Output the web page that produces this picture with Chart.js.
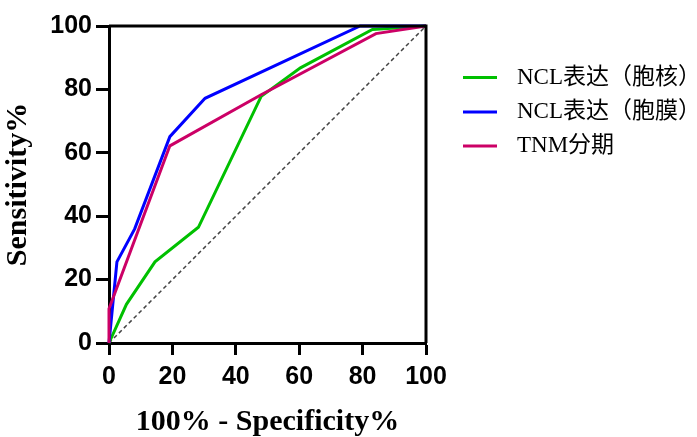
<!DOCTYPE html>
<html>
<head>
<meta charset="utf-8">
<script src="https://cdn.jsdelivr.net/npm/chart.js@4.4.1/dist/chart.umd.min.js"></script>
<style>
  html, body { margin: 0; padding: 0; background: #fff; }
  #wrap { width: 697px; height: 437px; }
</style>
</head>
<body>
<div id="wrap"><canvas id="c" width="697" height="437"></canvas></div>
<script>
// ---- data ----
const seriesNames = ['NCL表达（胞核）', 'NCL表达（胞膜）', 'TNM分期'];
const nucleusX = [0, 5.5, 14.5, 28.2, 48.0, 60.4, 83.1, 100];
const nucleusY = [0, 12.2, 25.6, 36.5, 77.8, 86.8, 98.9, 100];
const membraneX = [0, 2.5, 8.1, 19.2, 30.3, 79.2, 100];
const membraneY = [0, 25.6, 36.0, 65.1, 77.2, 100, 100];
const tnmX = [0, 0, 19.2, 48.0, 84.2, 100];
const tnmY = [0, 10.8, 62.2, 78.3, 97.6, 100];
const refX = [0, 100];
const refY = [0, 100];
const xTicks = [0, 20, 40, 60, 80, 100];
const yTicks = [0, 20, 40, 60, 80, 100];

const pts = (xs, ys) => xs.map((x, i) => ({ x: x, y: ys[i] }));

const colors = ['#00c000', '#0000ff', '#cc0066'];

const framePlugin = {
  id: 'frame',
  afterDatasetsDraw(chart) {
    const { ctx, chartArea: a } = chart;
    ctx.save();
    ctx.strokeStyle = '#000';
    ctx.lineWidth = 3;
    ctx.beginPath();
    ctx.moveTo(a.left, a.top);
    ctx.lineTo(a.right, a.top);
    ctx.lineTo(a.right, a.bottom);
    ctx.stroke();
    ctx.restore();
  }
};

const legendPlugin = {
  id: 'customLegend',
  afterDraw(chart) {
    const { ctx, chartArea: a } = chart;
    ctx.save();
    const x0 = a.right + 37, x1 = a.right + 71, tx = a.right + 91;
    const rows = [a.top + 51.5, a.top + 86, a.top + 120];
    ctx.font = '23px "Liberation Serif", "Noto Sans CJK SC", serif';
    ctx.textBaseline = 'middle';
    ctx.fillStyle = '#000';
    seriesNames.forEach((name, i) => {
      ctx.strokeStyle = colors[i];
      ctx.lineWidth = 3;
      ctx.beginPath();
      ctx.moveTo(x0, rows[i]);
      ctx.lineTo(x1, rows[i]);
      ctx.stroke();
      ctx.fillText(name, tx, rows[i]);
    });
    ctx.restore();
  }
};

const tickFont = { family: '"Liberation Sans", Arial, sans-serif', size: 25, weight: 'bold' };
const titleFont = { family: '"Liberation Serif", "Times New Roman", serif', size: 30, weight: 'bold' };

new Chart(document.getElementById('c'), {
  type: 'scatter',
  data: {
    datasets: [
      { label: seriesNames[0], data: pts(nucleusX, nucleusY), showLine: true, borderColor: colors[0], borderWidth: 3, pointRadius: 0, fill: false, tension: 0, order: 2, clip: false },
      { label: seriesNames[1], data: pts(membraneX, membraneY), showLine: true, borderColor: colors[1], borderWidth: 3, pointRadius: 0, fill: false, tension: 0, order: 1, clip: false },
      { label: seriesNames[2], data: pts(tnmX, tnmY), showLine: true, borderColor: colors[2], borderWidth: 3, pointRadius: 0, fill: false, tension: 0, order: 0, clip: false },
      { label: 'ref', data: pts(refX, refY), showLine: true, borderColor: '#444', borderWidth: 1.5, borderDash: [4, 3], pointRadius: 0, fill: false, order: 3 }
    ]
  },
  options: {
    responsive: false,
    animation: false,
    devicePixelRatio: 1,
    layout: { padding: { left: 0, right: 271, top: 26, bottom: 0 } },
    plugins: { legend: { display: false }, tooltip: { enabled: false } },
    scales: {
      x: {
        type: 'linear', min: 0, max: 100,
        afterFit(s) { s.height = 94; },
        afterBuildTicks(s) { s.ticks = xTicks.map(v => ({ value: v })); },
        border: { display: true, color: '#000', width: 3 },
        grid: { drawOnChartArea: false, drawTicks: true, tickLength: 12, tickWidth: 3, tickColor: '#000' },
        ticks: { color: '#000', font: tickFont, padding: 7, maxRotation: 0 },
        title: { display: true, text: '100% - Specificity%', color: '#000', font: titleFont, padding: { top: 0, bottom: -3 } }
      },
      y: {
        type: 'linear', min: 0, max: 100,
        afterFit(s) { s.width = 109; },
        afterBuildTicks(s) { s.ticks = yTicks.map(v => ({ value: v })); },
        border: { display: true, color: '#000', width: 3 },
        grid: { drawOnChartArea: false, drawTicks: true, tickLength: 13, tickWidth: 3, tickColor: '#000' },
        ticks: { color: '#000', font: tickFont, padding: 4 },
        title: { display: true, text: 'Sensitivity%', color: '#000', font: titleFont, padding: { top: 0, bottom: 4 } }
      }
    }
  },
  plugins: [framePlugin, legendPlugin]
});
</script>
</body>
</html>
